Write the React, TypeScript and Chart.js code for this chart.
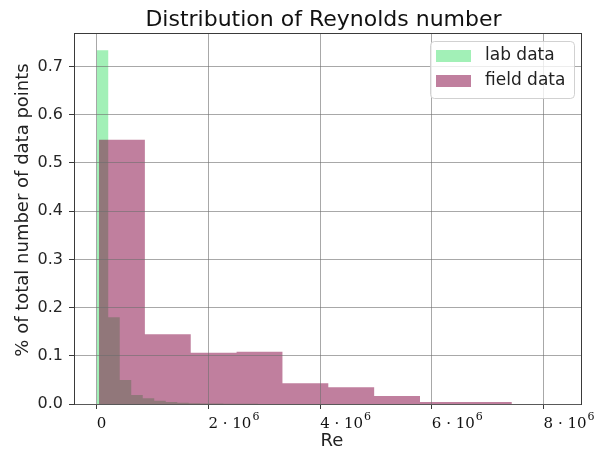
import React, { useEffect, useRef } from "react";
import { Chart, registerables } from "chart.js";

Chart.register(...registerables);

// ---- Text ----
const titleText = "Distribution of Reynolds number";
const xAxisLabel = "Re";
const yAxisLabel = "% of total number of data points";
const seriesNames = ["lab data", "field data"];

// ---- Histogram data (fraction of points per bin) ----
const labBinStart = 0;
const labBinWidth = 206000;
const labValues = [
  0.734, 0.18, 0.05, 0.0187, 0.0118, 0.0069, 0.004, 0.0025, 0.0018, 0.0012,
  0.0009, 0.0006, 0.0004, 0.0003, 0.0002, 0.0002, 0.0001, 0.0001, 0.0001, 0,
  0, 0, 0, 0, 0, 0, 0, 0, 0, 0,
  0, 0, 0, 0, 0, 0, 0, 0, 0, 0.0001,
];

const fieldBinStart = 41000;
const fieldBinWidth = 821000;
const fieldValues = [0.548, 0.1446, 0.1065, 0.1085, 0.043, 0.0346, 0.0166, 0.004, 0.004, 0];

// ---- Axes ----
const xTicks = [0, 2000000, 4000000, 6000000, 8000000];
const xTickBase = ["0", "2 · 10", "4 · 10", "6 · 10", "8 · 10"];
const xTickSup = ["", "6", "6", "6", "6"];
const yTicks = [0, 0.1, 0.2, 0.3, 0.4, 0.5, 0.6, 0.7];
const xMin = -407000;
const xMax = 8670000;
const yMin = 0;
const yMax = 0.7697;

const labColor = "rgba(70,225,112,0.5)";
const fieldColor = "rgba(130,0,62,0.5)";
const gridColor = "rgba(110,110,110,0.6)";
const spineColor = "#3a3a3a";

function stepPoints(start: number, width: number, values: number[]) {
  const pts = values.map((v, i) => ({ x: start + i * width, y: v }));
  pts.push({ x: start + values.length * width, y: 0 });
  return pts;
}

const decorPlugin = {
  id: "decor",
  afterDraw(chart: any) {
    const { ctx, chartArea } = chart;
    const xs = chart.scales.x;
    ctx.save();
    // top and right spines
    ctx.strokeStyle = spineColor;
    ctx.lineWidth = 1;
    ctx.beginPath();
    ctx.moveTo(chartArea.left, Math.round(chartArea.top) + 0.5);
    ctx.lineTo(chartArea.right, Math.round(chartArea.top) + 0.5);
    ctx.moveTo(Math.round(chartArea.right) + 0.5, chartArea.top);
    ctx.lineTo(Math.round(chartArea.right) + 0.5, chartArea.bottom);
    ctx.stroke();

    // title
    ctx.fillStyle = "#111";
    ctx.font = '22px "DejaVu Sans"';
    ctx.textAlign = "center";
    ctx.textBaseline = "alphabetic";
    ctx.fillText(titleText, 323.5, 26);

    // x label
    ctx.font = '18px "DejaVu Sans"';
    ctx.fillStyle = "#222";
    ctx.fillText(xAxisLabel, 332, 446);

    // y label
    ctx.save();
    ctx.translate(23, 210);
    ctx.rotate(-Math.PI / 2);
    ctx.textAlign = "center";
    ctx.textBaseline = "middle";
    ctx.fillText(yAxisLabel, 0, 0);
    ctx.restore();

    // x tick labels with superscripts
    ctx.textAlign = "left";
    ctx.textBaseline = "alphabetic";
    ctx.fillStyle = "#111";
    xTicks.forEach((v, i) => {
      const px = xs.getPixelForValue(v);
      ctx.font = '15px "DejaVu Serif"';
      ctx.fillText(xTickBase[i], px, 428);
      if (xTickSup[i]) {
        const w = ctx.measureText(xTickBase[i]).width;
        ctx.font = '11px "DejaVu Serif"';
        ctx.fillText(xTickSup[i], px + w + 1, 420);
      }
    });

    // legend
    const lx = 430, ly = 41, lw = 144, lh = 57;
    ctx.beginPath();
    ctx.roundRect(lx + 0.5, ly + 0.5, lw, lh, 4);
    ctx.fillStyle = "rgba(255,255,255,0.8)";
    ctx.fill();
    ctx.strokeStyle = "rgba(204,204,204,0.9)";
    ctx.stroke();
    const colors = [labColor, fieldColor];
    const rows = [56, 81];
    colors.forEach((c, i) => {
      ctx.fillStyle = c;
      ctx.fillRect(436, rows[i] - 6, 35, 12);
      ctx.fillStyle = "#222";
      ctx.font = '17px "DejaVu Sans"';
      ctx.textBaseline = "middle";
      ctx.fillText(seriesNames[i], 485, rows[i]);
    });
    ctx.restore();
  },
};

export default function App() {
  const canvasRef = useRef<HTMLCanvasElement | null>(null);

  useEffect(() => {
    if (!canvasRef.current) return;
    const chart = new Chart(canvasRef.current, {
      type: "line",
      data: {
        datasets: [
          {
            label: seriesNames[0],
            data: stepPoints(labBinStart, labBinWidth, labValues),
            stepped: true,
            fill: "origin",
            backgroundColor: labColor,
            borderColor: "rgba(0,0,0,0)",
            borderWidth: 0,
            pointRadius: 0,
            order: 2,
          },
          {
            label: seriesNames[1],
            data: stepPoints(fieldBinStart, fieldBinWidth, fieldValues),
            stepped: true,
            fill: "origin",
            backgroundColor: fieldColor,
            borderColor: "rgba(0,0,0,0)",
            borderWidth: 0,
            pointRadius: 0,
            order: 1,
          },
        ],
      },
      options: {
        animation: false,
        responsive: false,
        maintainAspectRatio: false,
        layout: { padding: { left: 0, right: 30, top: 33, bottom: 0 } },
        plugins: {
          legend: { display: false },
          title: { display: false },
          tooltip: { enabled: false },
        },
        scales: {
          x: {
            type: "linear",
            min: xMin,
            max: xMax,
            afterBuildTicks: (s: any) => {
              s.ticks = xTicks.map((v) => ({ value: v }));
            },
            afterFit: (s: any) => {
              s.height = 49;
            },
            ticks: { display: false },
            grid: {
              color: gridColor,
              lineWidth: 1,
              tickLength: 5,
              tickColor: spineColor,
              drawTicks: true,
              z: 1,
            },
            border: { display: true, color: spineColor, width: 1, z: 1 },
          },
          y: {
            type: "linear",
            min: yMin,
            max: yMax,
            afterBuildTicks: (s: any) => {
              s.ticks = yTicks.map((v) => ({ value: v }));
            },
            afterFit: (s: any) => {
              s.width = 74;
            },
            ticks: {
              callback: (v: any) => Number(v).toFixed(1),
              font: { family: "DejaVu Sans", size: 16 },
              color: "#262626",
              padding: 6,
            },
            grid: {
              color: gridColor,
              lineWidth: 1,
              tickLength: 5,
              tickColor: spineColor,
              drawTicks: true,
              z: 1,
            },
            border: { display: true, color: spineColor, width: 1, z: 1 },
          },
        },
      },
      plugins: [decorPlugin],
    } as any);
    return () => chart.destroy();
  }, []);

  return (
    <div style={{ position: "absolute", left: 0, top: 0, width: 611, height: 453, background: "#fff" }}>
      <canvas ref={canvasRef} width={611} height={453} style={{ width: 611, height: 453, display: "block" }} />
    </div>
  );
}
